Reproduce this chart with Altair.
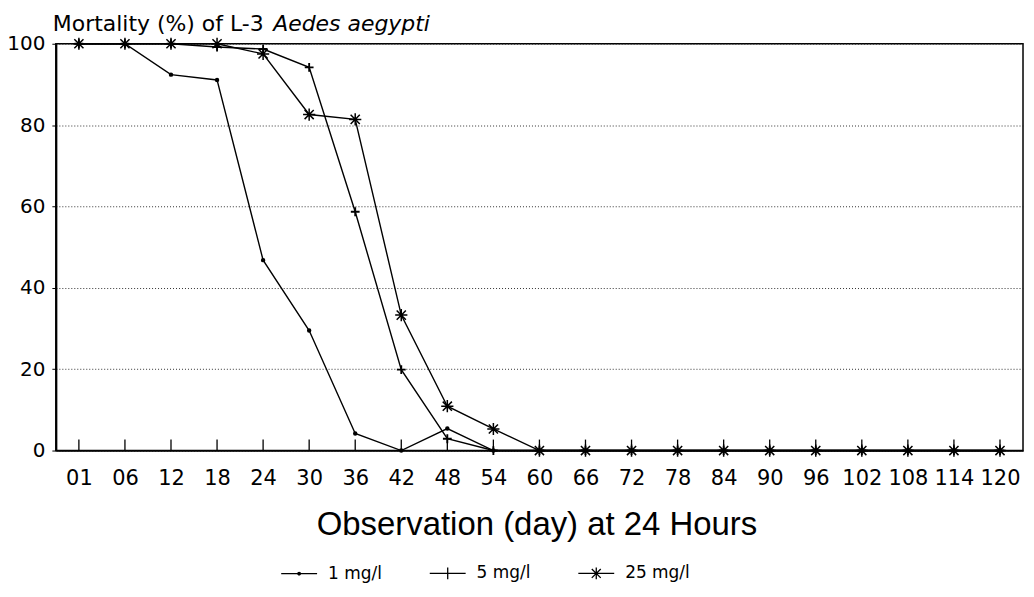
import altair as alt
import pandas as pd

days = ["01", "06", "12", "18", "24", "30", "36", "42", "48", "54", "60",
        "66", "72", "78", "84", "90", "96", "102", "108", "114", "120"]
mort_1 = [100, 100, 92.4, 91.1, 46.8, 29.5, 4.2, 0, 5.4, 0, 0,
          0, 0, 0, 0, 0, 0, 0, 0, 0, 0]
mort_5 = [100, 100, 100, 99.2, 98.7, 94.2, 58.7, 19.9, 2.9, 0, 0,
          0, 0, 0, 0, 0, 0, 0, 0, 0, 0]
mort_25 = [100, 100, 100, 100, 97.5, 82.6, 81.4, 33.3, 10.9, 5.3, 0,
           0, 0, 0, 0, 0, 0, 0, 0, 0, 0]
series_names = ["1 mg/l", "5 mg/l", "25 mg/l"]
y_ticks = [0, 20, 40, 60, 80, 100]
title_main = "Mortality (%) of L-3"
title_species = "Aedes aegypti"
x_title = "Observation (day) at 24 Hours"

rows = []
for name, vals in zip(series_names, [mort_1, mort_5, mort_25]):
    for d, v in zip(days, vals):
        rows.append({"day": d, "mortality": v, "series": name})
df = pd.DataFrame(rows)

W, H = 970, 408

plus_path = "M-1,0H1M0,-1V1"
star_path = "M-1,0H1M0,-1V1M-0.75,-0.75L0.75,0.75M-0.75,0.75L0.75,-0.75"
leg_dot = "M-1,0H1M-0.07,0A0.07,0.07 0 1,1 0.07,0A0.07,0.07 0 1,1 -0.07,0"
leg_plus = "M-1,0H1M0,-0.33V0.33"
leg_star = "M-1,0H1M0,-0.33V0.33M-0.25,-0.25L0.25,0.25M-0.25,0.25L0.25,-0.25"

x_enc = alt.X(
    "day:O", sort=days,
    scale=alt.Scale(type="point", padding=0.5),
    axis=alt.Axis(
        title=x_title, labelAngle=0, labelOverlap=False, ticks=False,
        domainColor="black", domainWidth=1.5,
        labelFont="DejaVu Sans", labelFontSize=21, labelColor="black",
        labelBaseline="alphabetic", labelPadding=34,
        titleFont="Liberation Sans", titleFontSize=33, titleFontWeight="normal",
        titleColor="black", titleBaseline="alphabetic", titleY=84, titleX=W / 2 - 3,
    ),
)
y_enc = alt.Y(
    "mortality:Q",
    scale=alt.Scale(domain=[0, 100], nice=False),
    axis=alt.Axis(
        title=None, values=y_ticks, grid=True, gridDash=[1, 2], gridColor="#333",
        gridWidth=1, domainColor="black", domainWidth=2, tickColor="black",
        tickSize=4, labelFont="DejaVu Sans", labelFontSize=20, labelColor="black",
        labelPadding=7,
    ),
)

base = alt.Chart(df)

lines = base.mark_line(color="black", strokeWidth=1.4).encode(
    x=x_enc, y=y_enc, detail="series:N"
)

points = base.mark_point(filled=False, color="black", opacity=1).encode(
    x=alt.X("day:O", sort=days),
    y="mortality:Q",
    shape=alt.Shape("series:N", scale=alt.Scale(domain=series_names,
                    range=["circle", plus_path, star_path]), legend=None),
    size=alt.Size("series:N", scale=alt.Scale(domain=series_names,
                  range=[5, 150, 230]), legend=None),
    strokeWidth=alt.StrokeWidth("series:N", scale=alt.Scale(domain=series_names,
                                range=[2.2, 1.5, 2.0]), legend=None),
)

xticks = alt.Chart(pd.DataFrame({"day": days})).mark_rule(
    color="black", strokeWidth=1.3
).encode(
    x=alt.X("day:O", sort=days), y=alt.value(H), y2=alt.value(H - 11)
)

legend_layer = base.mark_point(filled=False, color="black", opacity=1).encode(
    shape=alt.Shape(
        "series:N",
        scale=alt.Scale(domain=series_names, range=[leg_dot, leg_plus, leg_star]),
        legend=alt.Legend(
            title=None, orient="none", legendX=225, legendY=512,
            direction="horizontal", symbolSize=1296, symbolStrokeWidth=1.3,
            symbolStrokeColor="black", symbolFillColor="transparent",
            symbolOpacity=1, labelFont="DejaVu Sans", labelFontSize=17,
            labelColor="black", labelOffset=10, columnPadding=44, padding=0,
        ),
    )
).transform_filter("false")

t1 = alt.Chart(pd.DataFrame({"t": [title_main]})).mark_text(
    align="left", baseline="alphabetic", font="DejaVu Sans", fontSize=22,
    color="black"
).encode(x=alt.value(-3), y=alt.value(-13), text="t:N")

t2 = alt.Chart(pd.DataFrame({"t": [title_species]})).mark_text(
    align="left", baseline="alphabetic", font="DejaVu Sans", fontSize=22,
    fontStyle="italic", color="black"
).encode(x=alt.value(218), y=alt.value(-13), text="t:N")

chart = alt.layer(lines, points, xticks, legend_layer, t1, t2).resolve_scale(
    shape="independent", size="independent", strokeWidth="independent"
).properties(
    width=W, height=H,
    background="white",
    autosize=alt.AutoSizeParams(type="none"),
    padding={"left": 48, "top": 35, "right": 3, "bottom": 133},
).configure_view(stroke="black", strokeWidth=1.5)

chart.save("out.html", embed_options={"renderer": "svg", "actions": False})
